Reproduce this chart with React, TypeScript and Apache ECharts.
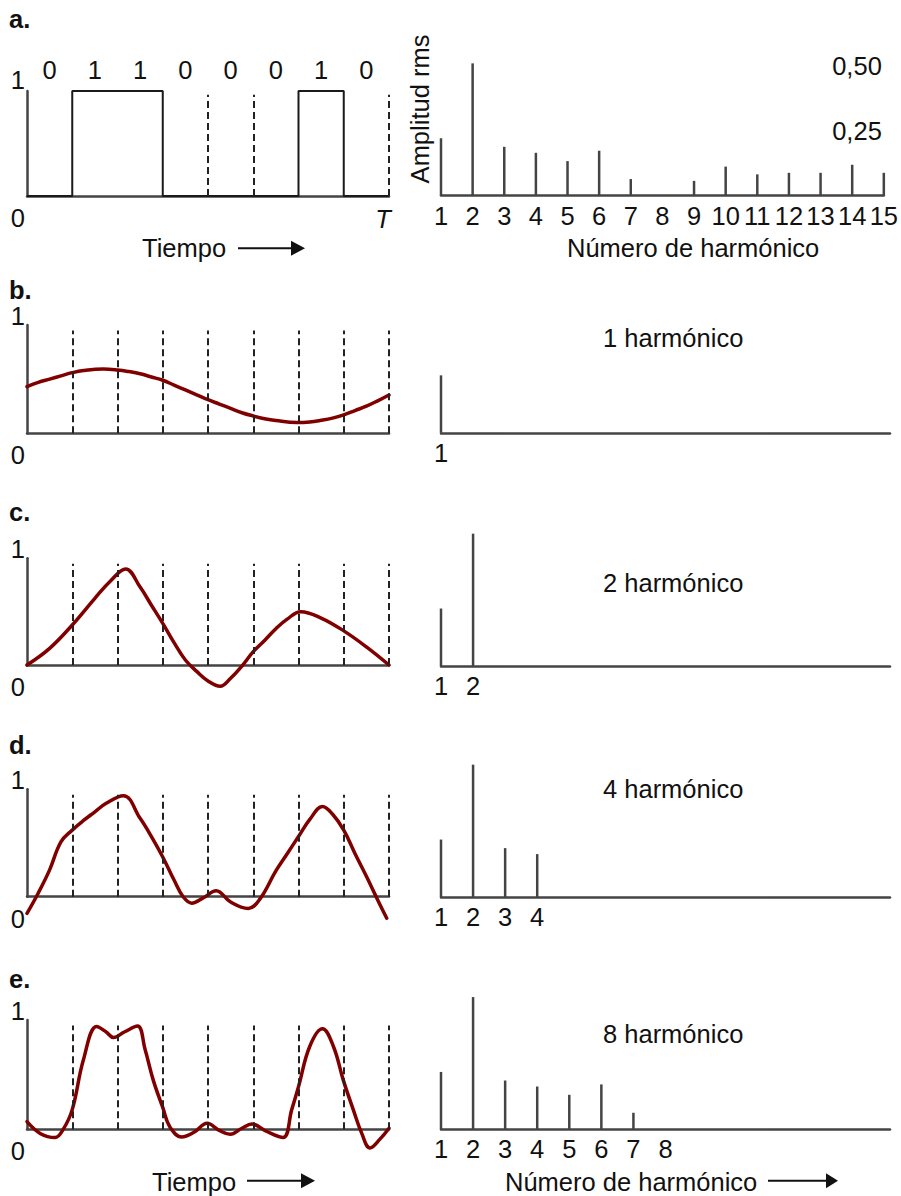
import React, { useEffect, useRef } from "react";
import * as echarts from "echarts";

// ---------- DATA ----------
const BIT_LABELS = ["0", "1", "1", "0", "0", "0", "1", "0"];
const BITS = [0, 1, 1, 0, 0, 0, 1, 0];
const DASHED_A = [4, 5, 8];
const DASHED_ALL = [1, 2, 3, 4, 5, 6, 7, 8];

const CURVE_B: number[][] = [
  [0, 0.43], [0.25, 0.47], [0.5, 0.5], [0.75, 0.53], [1, 0.56], [1.25, 0.58], [1.69, 0.594],
  [2, 0.585], [2.25, 0.57], [2.5, 0.55], [2.75, 0.52], [3, 0.49], [3.25, 0.445],
  [3.5, 0.4], [3.75, 0.355], [4, 0.31], [4.25, 0.27], [4.5, 0.23], [4.75, 0.19], [5, 0.16],
  [5.25, 0.135], [5.5, 0.118], [5.96, 0.1], [6.25, 0.105], [6.5, 0.12], [6.75, 0.14],
  [7, 0.17], [7.25, 0.21], [7.5, 0.25], [7.75, 0.3], [8, 0.354],
];
const CURVE_C: number[][] = [
  [0, 0], [0.5, 0.156], [1, 0.375], [1.5, 0.625], [1.85, 0.79], [2.18, 0.9], [2.5, 0.73],
  [2.75, 0.56], [3, 0.39], [3.25, 0.21], [3.5, 0.047], [3.75, -0.06], [4, -0.15], [4.27, -0.2],
  [4.5, -0.125], [4.75, -0.01], [5, 0.125], [5.25, 0.23], [5.5, 0.34], [5.75, 0.43],
  [6.05, 0.5], [6.5, 0.44], [7, 0.32], [7.5, 0.17], [8, 0],
];
const CURVE_D: number[][] = [
  [0, -0.155], [0.25, 0.035], [0.5, 0.25], [0.75, 0.51], [1, 0.62], [1.25, 0.71], [1.5, 0.79],
  [1.75, 0.87], [2.13, 0.94], [2.5, 0.73], [2.75, 0.56], [3, 0.37], [3.25, 0.155], [3.45, 0.0],
  [3.64, -0.06], [3.9, -0.01], [4.18, 0.056], [4.5, -0.05], [4.89, -0.11], [5.15, -0.02],
  [5.5, 0.24], [5.75, 0.4], [6, 0.56], [6.25, 0.72], [6.53, 0.84], [6.75, 0.77], [7, 0.62],
  [7.25, 0.4], [7.5, 0.19], [7.75, -0.03], [7.95, -0.2],
];
const CURVE_E: number[][] = [
  [0, 0.07], [0.3, -0.04], [0.62, -0.075], [0.8, 0], [1, 0.18], [1.25, 0.64], [1.54, 0.94],
  [1.75, 0.89], [1.91, 0.84], [2.15, 0.89], [2.44, 0.945], [2.61, 0.73], [2.79, 0.45],
  [3, 0.2], [3.16, 0.02], [3.42, -0.07], [3.7, -0.025], [3.98, 0.055], [4.25, -0.01],
  [4.49, -0.046], [4.75, 0.01], [4.97, 0.048], [5.3, -0.02], [5.66, -0.075], [5.85, 0.18],
  [6, 0.39], [6.25, 0.76], [6.53, 0.92], [6.77, 0.76], [6.99, 0.45], [7.21, 0.18],
  [7.4, -0.04], [7.58, -0.17], [7.8, -0.09], [8, 0.01],
];

const HARMONIC_LABELS = ["1", "2", "3", "4", "5", "6", "7", "8", "9", "10", "11", "12", "13", "14", "15"];
const AMPLITUDES = [0.221, 0.509, 0.188, 0.165, 0.133, 0.173, 0.064, 0, 0.057, 0.112, 0.082, 0.088, 0.088, 0.119, 0.088];
const PANEL_HARMONICS = [15, 1, 2, 4, 8];
const SPECTRUM_Y_TICKS = [0.25, 0.5];
const SPECTRUM_Y_LABELS = ["0,25", "0,50"];

const PANEL_LETTERS = ["a.", "b.", "c.", "d.", "e."];
const HARMONIC_TITLES = ["1 harmónico", "2 harmónico", "4 harmónico", "8 harmónico"];

// ---------- LAYOUT ----------
const FONT = "Liberation Sans, Arial, Helvetica, sans-serif";
const FS = 25.5;
const TXT = "#111";
const AXIS = "#444";
const CURVE = "#800000";

const LEFT_GRIDS = [
  [91, 105],
  [325, 108.3],
  [558.3, 106.7],
  [789.3, 107.4],
  [1020, 109.3],
];
const RIGHT_BASE = [195.7, 432.8, 666, 897, 1129.4];
const PX_PER_UNIT = 260;
const LETTER_TOPS = [6, 276.5, 498.5, 731.5, 965.5];
const HARM_TITLE_TOPS = [325, 570, 776, 1021];

export default function App() {
  const ref = useRef<HTMLDivElement>(null);

  useEffect(() => {
    if (!ref.current) return;
    const chart = echarts.init(ref.current, undefined, { renderer: "svg" });

    const grids: any[] = [];
    const xAxes: any[] = [];
    const yAxes: any[] = [];
    const series: any[] = [];

    const curves = [null, CURVE_B, CURVE_C, CURVE_D, CURVE_E];

    for (let p = 0; p < 5; p++) {
      const [lt, lh] = LEFT_GRIDS[p];
      grids.push({ left: 27, width: 362, top: lt, height: lh });
      const rmax = p === 0 ? 0.667 : 0.6;
      const rh = rmax * PX_PER_UNIT;
      grids.push({ left: 441, width: 449, top: RIGHT_BASE[p] - rh, height: rh });

      const li = p * 2;
      const ri = p * 2 + 1;

      xAxes[li] = {
        type: "value",
        gridIndex: li,
        min: 0,
        max: 8,
        interval: 1,
        axisLine: { show: true, lineStyle: { color: AXIS, width: 2.5 } },
        axisTick: { show: false },
        splitLine: { show: false },
        axisLabel:
          p === 0
            ? {
                show: true,
                margin: 10,
                formatter: (v: number) => (v === 8 ? "{t|T}" : ""),
                rich: { t: { fontSize: FS, fontStyle: "italic", color: TXT, fontFamily: FONT, padding: [0, 12, 0, 0] } },
              }
            : { show: false },
      };
      yAxes[li] = {
        type: "value",
        gridIndex: li,
        min: 0,
        max: 1,
        interval: 1,
        axisLine: { show: true, lineStyle: { color: AXIS, width: 2.5 } },
        axisTick: { show: false },
        splitLine: { show: false },
        axisLabel: {
          margin: 2,
          fontSize: FS,
          color: TXT,
          formatter: (v: number) => (v === 1 ? "{t|1}" : v === 0 ? "{b|0}" : ""),
          rich: {
            t: { fontSize: FS, color: TXT, fontFamily: FONT, padding: [0, 0, p === 0 ? 22 : 18, 0] },
            b: { fontSize: FS, color: TXT, fontFamily: FONT, padding: [44, 0, 0, 0] },
          },
        },
      };

      const count = PANEL_HARMONICS[p];
      xAxes[ri] = {
        type: "value",
        gridIndex: ri,
        min: 1,
        max: 15,
        interval: 1,
        axisLine: { show: true, onZero: false, lineStyle: { color: AXIS, width: 2.5 } },
        axisTick: { show: false },
        splitLine: { show: false },
        axisLabel: {
          margin: 7,
          fontSize: FS,
          color: TXT,
          formatter: (v: number) => (v <= count ? HARMONIC_LABELS[v - 1] : ""),
        },
      };
      yAxes[ri] = {
        type: "value",
        gridIndex: ri,
        min: 0,
        max: rmax,
        axisLine: { show: false },
        axisTick: { show: false },
        splitLine: { show: false },
        axisLabel: { show: false },
        ...(p === 0
          ? {
              name: "Amplitud rms",
              nameLocation: "middle",
              nameGap: 8,
              nameTextStyle: { fontSize: FS, color: TXT, fontFamily: FONT },
            }
          : {}),
      };

      if (p === 0) {
        const sq = BITS.map((b, i) => [i, b]);
        sq.push([BITS.length, BITS[BITS.length - 1]]);
        series.push({
          type: "line",
          xAxisIndex: li,
          yAxisIndex: li,
          data: sq,
          step: "end",
          symbol: "none",
          lineStyle: { color: "#1a1a1a", width: 2 },
          markLine: {
            silent: true,
            symbol: "none",
            label: { show: false },
            lineStyle: { color: "#222", width: 2, type: [7, 4] },
            data: DASHED_A.map((t) => [{ coord: [t, 0] }, { coord: [t, 0.965] }]),
          },
        });
      } else {
        series.push({
          type: "line",
          xAxisIndex: li,
          yAxisIndex: li,
          data: curves[p],
          smooth: 0.4,
          clip: false,
          symbol: "none",
          lineStyle: { color: CURVE, width: 3.5, join: "round", cap: "round" },
          z: 3,
          markLine: {
            silent: true,
            symbol: "none",
            label: { show: false },
            lineStyle: { color: "#222", width: 2, type: [7, 4] },
            data: DASHED_ALL.map((t) => [{ coord: [t, 0] }, { coord: [t, 0.95] }]),
          },
        });
      }

      series.push({
        type: "bar",
        xAxisIndex: ri,
        yAxisIndex: ri,
        barWidth: 2.5,
        clip: false,
        itemStyle: { color: AXIS },
        data: AMPLITUDES.slice(0, count).map((a, i) => [i + 1, a]),
      });
    }

    xAxes.push({
      type: "category",
      gridIndex: 0,
      position: "top",
      data: BIT_LABELS,
      boundaryGap: true,
      axisLine: { show: false },
      axisTick: { show: false },
      splitLine: { show: false },
      axisLabel: { margin: 8, fontSize: FS, color: TXT },
    });
    yAxes.push({
      type: "value",
      gridIndex: 1,
      position: "right",
      min: 0,
      max: 0.667,
      interval: 0.25,
      axisLine: { show: false },
      axisTick: { show: false },
      splitLine: { show: false },
      axisLabel: {
        inside: true,
        margin: 2,
        fontSize: FS,
        color: TXT,
        formatter: (v: number) => {
          const k = SPECTRUM_Y_TICKS.indexOf(v);
          return k >= 0 ? SPECTRUM_Y_LABELS[k] : "";
        },
      },
    });

    const titleStyle = { fontSize: FS, color: TXT, fontFamily: FONT, fontWeight: "normal" };
    const titles: any[] = [];
    PANEL_LETTERS.forEach((t, i) =>
      titles.push({ text: t, left: 9, top: LETTER_TOPS[i], padding: 0, textStyle: { ...titleStyle, fontWeight: "bold" } })
    );
    HARMONIC_TITLES.forEach((t, i) =>
      titles.push({ text: t, left: 603, top: HARM_TITLE_TOPS[i], padding: 0, textStyle: titleStyle })
    );
    titles.push({ text: "Tiempo", left: 142, top: 235.2, padding: 0, textStyle: titleStyle });
    titles.push({ text: "Tiempo", left: 152, top: 1168.5, padding: 0, textStyle: titleStyle });
    titles.push({ text: "Número de harmónico", left: 567, top: 234.5, padding: 0, textStyle: titleStyle });
    titles.push({ text: "Número de harmónico", left: 505, top: 1168.5, padding: 0, textStyle: titleStyle });

    const arrow = (x1: number, x2: number, x3: number, y: number) => [
      { type: "line", shape: { x1, y1: y, x2, y2: y }, style: { stroke: TXT, lineWidth: 2 } },
      { type: "polygon", shape: { points: [[x2 - 2, y - 7.5], [x3, y], [x2 - 2, y + 7.5]] }, style: { fill: TXT } },
    ];

    chart.setOption({
      animation: false,
      textStyle: { fontFamily: FONT },
      title: titles,
      grid: grids,
      xAxis: xAxes,
      yAxis: yAxes,
      series,
      graphic: [
        ...arrow(238, 293, 305, 248.3),
        ...arrow(247, 303, 315, 1180.7),
        ...arrow(768, 828, 838, 1180.7),
      ],
    });

    return () => chart.dispose();
  }, []);

  return (
    <div
      ref={ref}
      style={{ position: "absolute", left: 0, top: 0, width: 901, height: 1196, background: "#fff" }}
    />
  );
}
